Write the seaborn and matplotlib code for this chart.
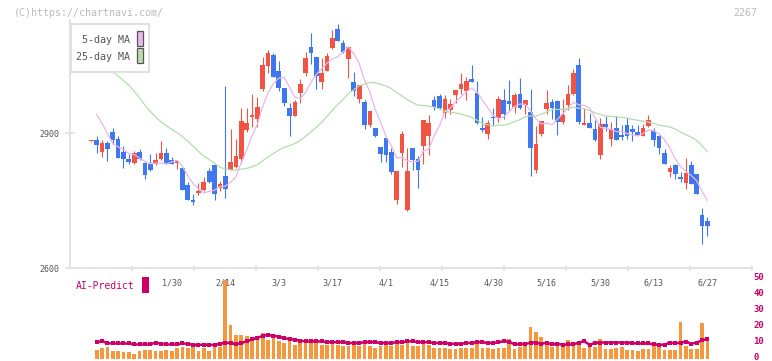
import numpy as np
import pandas as pd
import matplotlib
matplotlib.use("Agg")
import matplotlib.pyplot as plt
import matplotlib.transforms as mtransforms
from matplotlib.patches import Rectangle
import seaborn as sns

# ---------------- data ----------------
opens = [2882, 2885, 2859, 2878, 2903, 2888, 2859, 2842, 2835, 2859,
         2835, 2832, 2831, 2842, 2856, 2841, 2835, 2823, 2785, 2752,
         2768, 2774, 2816, 2829, 2778, 2805, 2819, 2825, 2842, 2908,
         2937, 2931, 2998, 3050, 3074, 3039, 3000, 2956, 2939, 2989,
         3035, 3091, 3069, 3015, 3039, 3090, 3131, 3100, 3065, 3014,
         2976, 2970, 2919, 2912, 2870, 2890, 2859, 2751, 2856, 2730,
         2868, 2842, 2871, 2893, 2974, 2982, 2946, 2951, 2986, 2999,
         2995, 3020, 2990, 2912, 2899, 2936, 2935, 2974, 2971, 2959,
         2988, 2964, 2948, 2819, 2899, 2954, 2970, 2972, 2926, 2962,
         2987, 3052, 2919, 2923, 2910, 2851, 2921, 2888, 2912, 2896,
         2918, 2910, 2903, 2895, 2917, 2905, 2895, 2856, 2813, 2830,
         2803, 2790, 2830, 2810, 2719, 2705]
highs = [2884, 2893, 2885, 2882, 2912, 2893, 2871, 2854, 2860, 2865,
         2837, 2854, 2856, 2883, 2868, 2848, 2841, 2823, 2792, 2765,
         2789, 2804, 2822, 2832, 2795, 3005, 2909, 2887, 2956, 2956,
         2988, 2980, 3069, 3085, 3078, 3061, 3000, 2967, 2974, 3021,
         3081, 3122, 3069, 3068, 3079, 3130, 3143, 3108, 3091, 3036,
         3007, 2974, 2950, 2912, 2870, 2890, 2867, 2816, 2905, 2867,
         2868, 2850, 2930, 2940, 2983, 2988, 2985, 2976, 2996, 3034,
         3026, 3052, 3016, 2936, 2930, 2956, 2983, 2999, 3019, 2990,
         3024, 2974, 2999, 2916, 2928, 2996, 2976, 2974, 2976, 3007,
         3042, 3067, 2956, 2945, 2930, 2935, 2938, 2925, 2938, 2919,
         2934, 2918, 2918, 2921, 2941, 2911, 2896, 2865, 2829, 2832,
         2814, 2845, 2838, 2810, 2734, 2715]
lows = [2881, 2857, 2848, 2839, 2876, 2846, 2822, 2831, 2832, 2841,
        2799, 2817, 2829, 2841, 2832, 2832, 2820, 2773, 2751, 2741,
        2762, 2771, 2789, 2752, 2771, 2756, 2819, 2823, 2833, 2904,
        2915, 2915, 2995, 3035, 3026, 2993, 2961, 2895, 2939, 2967,
        3028, 3054, 2998, 2998, 3039, 3087, 3106, 3078, 3022, 2982,
        2967, 2909, 2914, 2891, 2837, 2837, 2809, 2742, 2826, 2728,
        2819, 2779, 2831, 2852, 2951, 2954, 2933, 2943, 2967, 2988,
        2973, 3013, 2920, 2902, 2888, 2918, 2926, 2931, 2952, 2946,
        2954, 2942, 2806, 2811, 2895, 2943, 2931, 2896, 2920, 2951,
        2985, 2921, 2919, 2911, 2882, 2844, 2906, 2871, 2886, 2885,
        2888, 2884, 2896, 2895, 2915, 2872, 2855, 2831, 2804, 2799,
        2791, 2777, 2788, 2766, 2653, 2671]
closes = [2883, 2875, 2878, 2866, 2885, 2846, 2842, 2836, 2856, 2844,
          2808, 2819, 2841, 2856, 2834, 2832, 2838, 2774, 2751, 2748,
          2772, 2792, 2791, 2765, 2788, 2776, 2836, 2850, 2928, 2923,
          2941, 2958, 3051, 3078, 3026, 3000, 2968, 2939, 2970, 3009,
          3068, 3079, 3028, 3034, 3072, 3111, 3106, 3081, 3091, 2993,
          3007, 2919, 2950, 2895, 2853, 2851, 2813, 2816, 2898, 2816,
          2841, 2819, 2930, 2922, 2959, 2956, 2976, 2965, 2996, 3010,
          3016, 3013, 2924, 2907, 2923, 2933, 2976, 2942, 2965, 2985,
          2957, 2974, 2868, 2876, 2928, 2967, 2957, 2926, 2941, 2988,
          3034, 2926, 2922, 2911, 2886, 2921, 2915, 2910, 2886, 2891,
          2895, 2902, 2897, 2912, 2930, 2886, 2868, 2831, 2823, 2809,
          2799, 2812, 2788, 2766, 2693, 2693]
# closes of the 24 sessions before the first visible candle (estimated from the MA curves)
prior_closes = [3100, 3110, 3090, 3100, 3080, 3095, 3098, 3190, 3210, 3209,
                3170, 3150, 3121, 3060, 3030, 3015, 3000, 3010, 3014, 3070,
                3057, 2978, 2976, 2998]
volume = [np.nan,
          5.9, 6.6, 7.8, 5.3, 5.3, 4.1, 4.1, 3.4, 4.7, 5.9,
          5.9, 4.7, 5.3, 5.9, 5.3, 6.6, 7.8, 6.6, 7.2, 5.3,
          6.6, 5.3, 7.5, 7.2,
          49.5, 21, 14.7, 14.7, 14.1, 12.8, 14,
          16, 12, 13, 11, 10, 12, 9, 10, 12, 11, 10, 9, 9, 10, 9,
          8, 8, 9, 8, 10, 8, 7, 8, 9, 8, 11, 9, 12, 8, 8, 10, 9,
          7, 7, 7, 6, 6, 7, 7, 7, 10, 7, 7, 6, 7,
          6.8, 12.6, 6.1, 7.4, 8.2, 19.9, 16.8, 13.6, 9.5, 7.4,
          8.6, 7.4, 11.8, 9.5, 9.5, 6.8, 7.8, 7.4, 12.8, 6.1,
          6.1, 6.8, 7.2, 5.5, 5.5, 4.9, 6.1, 6.1, 8.0, 7.2,
          5.5, 5.5, 5.5, 23.4, 8.0, 6.1, 6.1, 22.8, 12.0]
ai_predict = [np.nan,
              10.5, 11.1, 9.9, 9.7, 9.7, 9.7, 9.7, 9.1, 9.1, 9.1,
              9.1, 10.3, 9.5, 9.1, 9.1, 9.1, 9.7, 9.5, 8.7, 8.9,
              8.9, 8.9, 8.7, 9.5, 10.3, 9.9, 9.3, 9.9, 11.1, 12.2, 13.2,
              14.5, 15, 14.5, 14, 13, 12.5, 12, 11.5, 11, 11,
              11, 11, 10.5, 10.5, 10.5, 10.5, 10, 10, 10, 10.5,
              10.5, 10.5, 10, 10, 10, 10.5, 10.5, 11, 11, 10.5,
              10.5, 10.5, 10, 10, 10, 9.5, 9.5, 9.5, 10, 10,
              10.5, 10.5, 10, 10, 10.5,
              11.1, 10.9, 9.1, 9.3, 9.3, 10.3, 10.3, 9.5, 10.1, 9.1,
              9.5, 8.9, 9.1, 9.1, 10.3, 11.1, 8.9, 10.1, 10.3, 10.3,
              10.3, 10.3, 10.3, 10.3, 9.9, 9.7, 9.7, 9.7, 9.1, 8.9,
              8.9, 10.3, 9.7, 10.3, 10.9, 9.5, 10.3, 11.7, 12.5]
date_labels = ["1/30", "2/14", "3/3", "3/17", "4/1", "4/15",
               "4/30", "5/16", "5/30", "6/13", "6/27"]
date_label_idx = [15, 25, 35, 45, 55, 65, 75, 85, 95, 105, 115]
price_ticks = [2600, 2900]
vol_ticks = [0, 10, 20, 30, 40, 50]

# ---------------- derived tables ----------------
n = len(closes)
df = pd.DataFrame({"i": np.arange(n), "open": opens, "high": highs,
                   "low": lows, "close": closes,
                   "volume": volume, "ai": ai_predict})
allc = pd.Series(prior_closes + closes, dtype=float)
df["ma5"] = allc.rolling(5).mean().values[-n:]
df["ma25"] = allc.rolling(25).mean().values[-n:]
up = df["close"] >= df["open"]

RED = "#f25342"
BLUE = "#3f78ee"
ORANGE = "#f5973c"
MAG = "#cc0066"
GRID = "#e0e0e0"
TXT = "#555555"

sns.set_theme(style="white")
plt.rcParams["font.family"] = ["DejaVu Sans Mono", "DejaVu Sans"]

W, H = 772, 361
fig = plt.figure(figsize=(W / 100, H / 100), dpi=100)


def px_axes(x0, y0, x1, y1):
    return fig.add_axes([x0 / W, 1 - y1 / H, (x1 - x0) / W, (y1 - y0) / H])


XL = (-3.98, 123.33)

# ---------------- main price axes ----------------
ax = px_axes(70, 20, 752, 268.3)
ax.set_facecolor("none")
ax.set_xlim(*XL)
ax.set_ylim(2600, 3151.8)

colors = np.where(up, RED, BLUE)
ax.vlines(df["i"], df["low"], df["high"], colors=colors, linewidth=0.8, zorder=2)
body_low = np.minimum(df["open"], df["close"])
body_h = np.maximum((df["close"] - df["open"]).abs(), 2.2)
ax.bar(df["i"], body_h, bottom=body_low, width=0.87, color=colors,
       linewidth=0, zorder=3)

ma = df.iloc[1:]
sns.lineplot(x=ma["i"], y=ma["ma5"], ax=ax, color="#e9b6ea", linewidth=0.9, zorder=4)
sns.lineplot(x=ma["i"], y=ma["ma25"], ax=ax, color="#b6dcae", linewidth=0.9, zorder=4)
ax.set_xlabel("")
ax.set_ylabel("")

for s in ["top", "right"]:
    ax.spines[s].set_visible(False)
for s in ["left", "bottom"]:
    ax.spines[s].set_color(GRID)
    ax.spines[s].set_linewidth(1.3)

ax.set_yticks(price_ticks)
ax.set_yticklabels([str(v) for v in price_ticks])
ax.tick_params(axis="y", direction="inout", length=6.5, width=1.2, color=GRID,
               labelsize=6, labelcolor=TXT, pad=4, left=True)

ax.set_xticks(date_label_idx)
ax.set_xticklabels(date_labels)
ax.tick_params(axis="x", which="major", length=0, pad=7, labelsize=6,
               labelcolor=TXT, bottom=True)
step = (XL[1] - XL[0]) / 11
ax.set_xticks([XL[0] + k * step for k in range(1, 12)], minor=True)
ax.tick_params(axis="x", which="minor", direction="inout", length=3.6,
               width=1.2, color=GRID, bottom=True)

# ---------------- volume / AI panel ----------------
axv = px_axes(70, 270, 752, 361)
axv.patch.set_alpha(0)
vd = df.dropna(subset=["volume"])
sns.barplot(x=vd["i"], y=vd["volume"], native_scale=True, ax=axv, color=ORANGE,
            width=0.7, errorbar=None, saturation=1, linewidth=0, zorder=2)
ad = df.dropna(subset=["ai"])
sns.lineplot(x=ad["i"], y=ad["ai"], ax=axv, color=MAG, linewidth=1.8,
             marker="s", markersize=2.8, markeredgewidth=0, zorder=3)
axv.set_xlim(*XL)
axv.set_ylim(-1.25, 55.625)
axv.set_xlabel("")
axv.set_ylabel("")
axv.set_xticks([])
for s in axv.spines.values():
    s.set_visible(False)
axv.yaxis.tick_right()
axv.set_yticks(vol_ticks)
axv.set_yticklabels([str(v) for v in vol_ticks])
axv.tick_params(axis="y", length=0, pad=1, labelsize=6.5, labelcolor=MAG, right=True, left=False)
lift = mtransforms.ScaledTranslation(0, 2.6 / 100, fig.dpi_scale_trans)
for t in axv.get_yticklabels():
    t.set_fontweight("bold")
    t.set_transform(t.get_transform() + lift)

fig.text(76 / W, 1 - 286 / H, "AI-Predict", color=MAG, fontsize=7,
         ha="left", va="center")
fig.patches.append(Rectangle((142 / W, 1 - 293 / H), 7 / W, 16 / H,
                             transform=fig.transFigure, facecolor=MAG,
                             edgecolor="none"))

# ---------------- legend box ----------------
axl = px_axes(70.5, 24, 148.5, 72)
axl.set_facecolor("white")
axl.set_xticks([])
axl.set_yticks([])
for s in axl.spines.values():
    s.set_color("#dddddd")
    s.set_linewidth(1.2)
axl.set_xlim(0, 1)
axl.set_ylim(0, 1)
axl.text(0.763, 0.667, "5-day MA", ha="right", va="center", fontsize=7.2, color=TXT)
axl.text(0.763, 0.32, "25-day MA", ha="right", va="center", fontsize=7.2, color=TXT)
axl.add_patch(Rectangle((0.849, 0.542), 0.077, 0.31, facecolor="#eab9ea",
                        edgecolor="#555555", linewidth=0.9))
axl.add_patch(Rectangle((0.849, 0.19), 0.077, 0.31, facecolor="#badcb0",
                        edgecolor="#555555", linewidth=0.9))

# ---------------- header texts ----------------
fig.text(14 / W, 1 - 12.5 / H, "(C)https://chartnavi.com/", color="#bbbbbb",
         fontsize=7.2, ha="left", va="center")
fig.text(757 / W, 1 - 12.5 / H, "2267", color="#bbbbbb", fontsize=7.2,
         ha="right", va="center")

fig.savefig("out.png", dpi=100)
